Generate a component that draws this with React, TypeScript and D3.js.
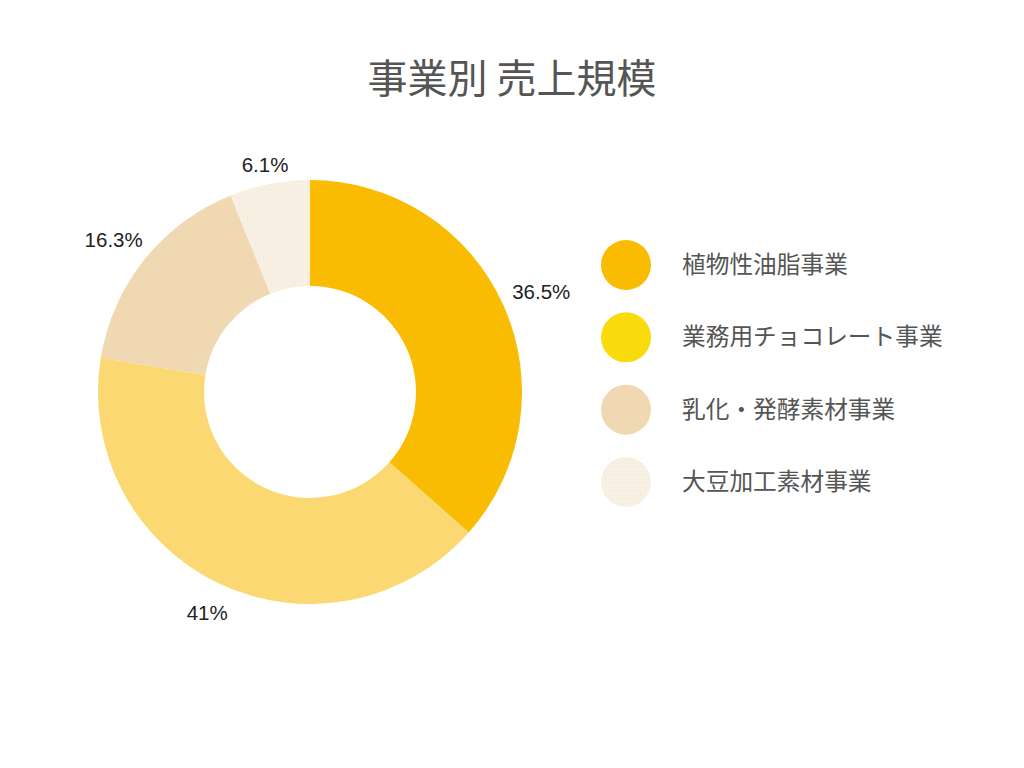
import React from "react";
import * as d3 from "d3";

const categories = ["植物性油脂事業", "業務用チョコレート事業", "乳化・発酵素材事業", "大豆加工素材事業"];
const values = [36.5, 41, 16.3, 6.1];
const valueLabels = ["36.5%", "41%", "16.3%", "6.1%"];
const sliceColors = ["#F9BC02", "#FCD872", "#F0D8B2", "url(#dots)"];
const legendColors = ["#F9BC02", "#F9DA0A", "#F0D8B2", "url(#dots)"];

const W = 1024;
const H = 768;
const cx = 310;
const cy = 392;
const outerR = 212;
const innerR = 106;
const labelFont = 20.5;

function textWidth(t: string, fs: number) {
  let w = 0;
  for (const ch of t) {
    if (ch === ".") w += 0.278;
    else if (ch === "%") w += 0.889;
    else w += 0.556;
  }
  return w * fs;
}

export default function App() {
  const pie = d3.pie<number>().sort(null).value((d) => d)(values);
  const arc = d3.arc<d3.PieArcDatum<number>>().innerRadius(innerR).outerRadius(outerR);
  const labelR = 224;
  const legendY = d3.scalePoint<string>().domain(categories).range([265, 482]);

  return (
    <svg width={W} height={H} style={{ position: "absolute", left: 0, top: 0, background: "#fff" }}>
      <defs>
        <pattern id="dots" width="4" height="4" patternUnits="userSpaceOnUse">
          <rect width="4" height="4" fill="#F8F0E2" />
          <rect x="1" y="1" width="1" height="1" fill="#ECE4DC" />
        </pattern>
      </defs>
      <text
        x={512}
        y={76}
        textAnchor="middle"
        dominantBaseline="central"
        fontFamily="'Noto Sans CJK JP', sans-serif"
        fontSize={40}
        fill="#555"
      >
        事業別 売上規模
      </text>
      <g transform={`translate(${cx},${cy})`}>
        {pie.map((d, i) => (
          <path key={i} d={arc(d) || ""} fill={sliceColors[i]} />
        ))}
        {pie.map((d, i) => {
          const a = (d.startAngle + d.endAngle) / 2;
          const s = Math.sin(a);
          const c = Math.cos(a);
          const w = textWidth(valueLabels[i], labelFont);
          const h = 15;
          const ext = Math.abs(s) * (w / 2) + Math.abs(c) * (h / 2);
          const r = labelR + ext;
          const x = r * s;
          const y = -r * c + 4;
          return (
            <text
              key={"l" + i}
              x={x}
              y={y}
              textAnchor="middle"
              dominantBaseline="central"
              fontFamily="'Liberation Sans', Arial, sans-serif"
              fontSize={labelFont}
              fill="#222"
            >
              {valueLabels[i]}
            </text>
          );
        })}
      </g>
      <g>
        {categories.map((c, i) => (
          <g key={c} transform={`translate(0,${legendY(c)})`}>
            <circle cx={626} cy={0} r={25} fill={legendColors[i]} />
            <text
              x={682}
              y={-2}
              dominantBaseline="central"
              fontFamily="'Noto Sans CJK JP', sans-serif"
              fontSize={23.7}
              fill="#555"
            >
              {c}
            </text>
          </g>
        ))}
      </g>
    </svg>
  );
}
